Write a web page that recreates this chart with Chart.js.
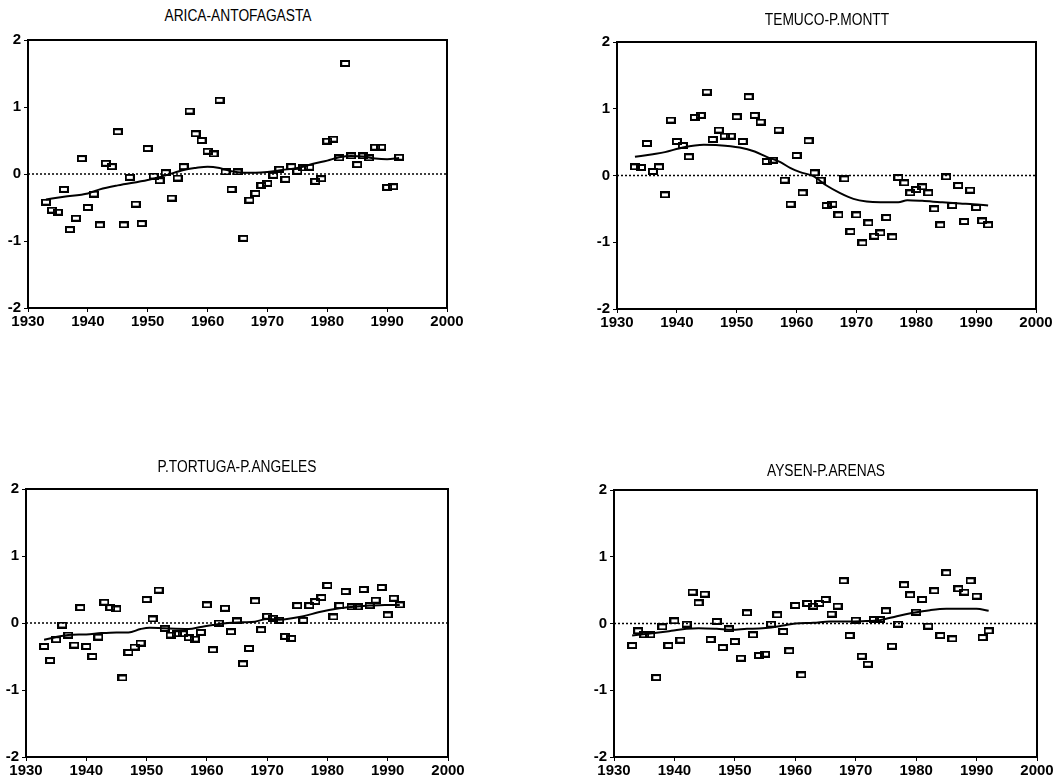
<!DOCTYPE html>
<html>
<head>
<meta charset="utf-8">
<script src="https://cdn.jsdelivr.net/npm/chart.js@4"></script>
<style>
  body { margin: 0; background: #fff; width: 1058px; height: 781px; position: relative; overflow: hidden; font-family: "Liberation Sans", Arial, sans-serif; }
  canvas { position: absolute; }
  .title { position: absolute; font-size: 16px; color: #000; transform: translate(-50%, -50%) scale(0.86, 1); white-space: nowrap; }
</style>
</head>
<body>
<script>
// years of the annual anomalies
const years = [];
for (let y = 1933; y <= 1992; y++) years.push(y);

const titles = ['ARICA-ANTOFAGASTA', 'TEMUCO-P.MONTT', 'P.TORTUGA-P.ANGELES', 'AYSEN-P.ARENAS'];

const xTicks = [1930, 1940, 1950, 1960, 1970, 1980, 1990, 2000];
const yTicks = [-2, -1, 0, 1, 2];

// anomalies, 1933..1992
const aricaValues = [-0.42, -0.54, -0.57, -0.23, -0.83, -0.66, 0.23, -0.50, -0.30, -0.76,
  0.16, 0.11, 0.63, -0.76, -0.05, -0.45, -0.74, 0.38, -0.03, -0.10,
  0.02, -0.36, -0.06, 0.11, 0.94, 0.60, 0.50, 0.34, 0.30, 1.10,
  0.03, -0.23, 0.03, -0.96, -0.39, -0.29, -0.17, -0.14, -0.02, 0.07,
  -0.08, 0.11, 0.04, 0.09, 0.10, -0.11, -0.07, 0.49, 0.52, 0.24,
  1.65, 0.27, 0.14, 0.27, 0.24, 0.40, 0.40, -0.20, -0.19, 0.25];

const temucoValues = [0.13, 0.12, 0.48, 0.06, 0.13, -0.29, 0.83, 0.51, 0.45, 0.28,
  0.87, 0.90, 1.25, 0.54, 0.68, 0.59, 0.59, 0.88, 0.51, 1.18,
  0.90, 0.80, 0.21, 0.23, 0.68, -0.07, -0.43, 0.30, -0.26, 0.52,
  0.04, -0.07, -0.45, -0.43, -0.59, -0.05, -0.84, -0.59, -1.01, -0.71,
  -0.91, -0.86, -0.63, -0.92, -0.03, -0.11, -0.26, -0.21, -0.17, -0.26,
  -0.50, -0.74, -0.02, -0.45, -0.15, -0.69, -0.22, -0.48, -0.68, -0.74];

const tortugaValues = [-0.35, -0.56, -0.25, -0.03, -0.18, -0.33, 0.23, -0.35, -0.50, -0.21,
  0.31, 0.23, 0.21, -0.82, -0.44, -0.36, -0.30, 0.35, 0.06, 0.49,
  -0.08, -0.18, -0.16, -0.16, -0.22, -0.24, -0.14, 0.27, -0.40, 0.00,
  0.22, -0.13, 0.03, -0.61, -0.38, 0.33, -0.10, 0.10, 0.07, 0.04,
  -0.20, -0.23, 0.26, 0.04, 0.26, 0.32, 0.38, 0.56, 0.09, 0.26,
  0.47, 0.24, 0.24, 0.50, 0.26, 0.34, 0.53, 0.12, 0.37, 0.27];

const aysenValues = [-0.33, -0.11, -0.17, -0.17, -0.81, -0.05, -0.33, 0.04, -0.25, -0.01,
  0.47, 0.31, 0.44, -0.24, 0.03, -0.36, -0.08, -0.27, -0.52, 0.16,
  -0.17, -0.48, -0.46, -0.01, 0.13, -0.12, -0.41, 0.27, -0.77, 0.30,
  0.26, 0.30, 0.36, 0.14, 0.26, 0.64, -0.18, 0.05, -0.49, -0.61,
  0.06, 0.06, 0.19, -0.34, -0.01, 0.58, 0.43, 0.17, 0.36, -0.04,
  0.49, -0.18, 0.76, -0.23, 0.52, 0.47, 0.64, 0.41, -0.21, -0.11];

// smoothed curves
const aricaSmoothX = [1933, 1936, 1940, 1942, 1945, 1950, 1953, 1956, 1958, 1960, 1962, 1964, 1966, 1968, 1970, 1972.5, 1975, 1978, 1980, 1982, 1984, 1986, 1988, 1990, 1992];
const aricaSmoothY = [-0.38, -0.34, -0.29, -0.23, -0.17, -0.09, -0.02, 0.06, 0.09, 0.11, 0.09, 0.04, 0.02, 0.02, 0.03, 0.06, 0.09, 0.16, 0.20, 0.25, 0.27, 0.26, 0.23, 0.22, 0.24];

const temucoSmoothX = [1933, 1936, 1938, 1941, 1944.5, 1947, 1950.5, 1953, 1955, 1957.3, 1959, 1960.6, 1962.8, 1965, 1967.2, 1969.5, 1971.7, 1974, 1977, 1978.5, 1981, 1984, 1987.3, 1989.5, 1992];
const temucoSmoothY = [0.28, 0.32, 0.35, 0.42, 0.46, 0.455, 0.42, 0.36, 0.28, 0.20, 0.11, 0.05, -0.01, -0.15, -0.26, -0.35, -0.39, -0.40, -0.40, -0.37, -0.38, -0.40, -0.42, -0.43, -0.45];

const tortugaSmoothX = [1933, 1937, 1940, 1942.5, 1945, 1947, 1949, 1950.5, 1953, 1957, 1959, 1961, 1963.5, 1966, 1968, 1970, 1972, 1976, 1978.5, 1982, 1984, 1987, 1989.5, 1992];
const tortugaSmoothY = [-0.25, -0.18, -0.17, -0.15, -0.14, -0.14, -0.09, -0.07, -0.08, -0.09, -0.06, -0.03, 0.00, 0.01, 0.02, 0.06, 0.05, 0.10, 0.16, 0.22, 0.24, 0.26, 0.27, 0.27];

const aysenSmoothX = [1933, 1936, 1939.5, 1942, 1944, 1947, 1949.5, 1952, 1954, 1956, 1958, 1960, 1963, 1965.7, 1968.4, 1971, 1974, 1976.8, 1979.5, 1982.3, 1985, 1988, 1990, 1992];
const aysenSmoothY = [-0.18, -0.15, -0.11, -0.08, -0.07, -0.08, -0.095, -0.08, -0.075, -0.06, -0.03, 0.00, 0.01, 0.03, 0.03, 0.035, 0.05, 0.11, 0.16, 0.20, 0.22, 0.22, 0.22, 0.19];

// plot-area boxes on the page
const panels = [
  { l: 28, t: 40, r: 447, b: 308, ty: 16 },
  { l: 617, t: 42, r: 1036, b: 309, ty: 20 },
  { l: 26, t: 489, r: 448, b: 757, ty: 467 },
  { l: 614, t: 490, r: 1037, b: 757, ty: 471 }
];

// hollow rectangle marker
const marker = document.createElement('canvas');
marker.width = 10;
marker.height = 7;
const mctx = marker.getContext('2d');
mctx.lineWidth = 2;
mctx.strokeStyle = '#000';
mctx.strokeRect(1, 1, 8, 5);

const tickFont = { size: 15, weight: 'bold', family: '"Liberation Sans", Arial, sans-serif' };

const framePlugin = {
  id: 'frame',
  afterDatasetsDraw(chart) {
    const a = chart.chartArea;
    const ctx = chart.ctx;
    ctx.save();
    ctx.strokeStyle = '#000';
    ctx.lineWidth = 2;
    ctx.strokeRect(a.left, a.top, a.right - a.left, a.bottom - a.top);
    ctx.restore();
  }
};

function makePanel(i, values, smoothX, smoothY) {
  const p = panels[i];
  const padL = 30, padT = 15, padR = 30, padB = 32;

  const canvas = document.createElement('canvas');
  canvas.width = p.r - p.l + padL + padR;
  canvas.height = p.b - p.t + padT + padB;
  canvas.style.left = (p.l - padL) + 'px';
  canvas.style.top = (p.t - padT) + 'px';
  document.body.appendChild(canvas);

  const title = document.createElement('div');
  title.className = 'title';
  title.textContent = titles[i];
  title.style.left = ((p.l + p.r) / 2) + 'px';
  title.style.top = p.ty + 'px';
  document.body.appendChild(title);

  const xMin = xTicks[0], xMax = xTicks[xTicks.length - 1];

  new Chart(canvas.getContext('2d'), {
    type: 'scatter',
    data: {
      datasets: [
        {
          data: years.map((y, k) => ({ x: y, y: values[k] })),
          pointStyle: marker,
          pointRadius: 4,
          showLine: false
        },
        {
          data: smoothX.map((x, k) => ({ x: x, y: smoothY[k] })),
          showLine: true,
          borderColor: '#000',
          borderWidth: 2,
          pointRadius: 0,
          cubicInterpolationMode: 'monotone'
        },
        {
          data: [{ x: xMin, y: 0 }, { x: xMax, y: 0 }],
          showLine: true,
          borderColor: '#000',
          borderWidth: 1.5,
          borderDash: [2, 2],
          pointRadius: 0
        }
      ]
    },
    options: {
      responsive: false,
      animation: false,
      devicePixelRatio: 1,
      layout: { padding: { left: 0, top: padT, right: padR, bottom: padB - 24 } },
      plugins: { legend: { display: false }, tooltip: { enabled: false } },
      scales: {
        x: {
          type: 'linear',
          min: xMin,
          max: xMax,
          afterBuildTicks(scale) { scale.ticks = xTicks.map(v => ({ value: v })); },
          afterFit(scale) { scale.height = 24; },
          grid: { display: true, drawOnChartArea: false, drawTicks: true, tickLength: 4, color: '#000' },
          border: { display: true, color: '#000', width: 2 },
          ticks: { color: '#000', padding: 1, maxRotation: 0, font: tickFont, callback: v => String(v) }
        },
        y: {
          min: yTicks[0],
          max: yTicks[yTicks.length - 1],
          afterBuildTicks(scale) { scale.ticks = yTicks.map(v => ({ value: v })); },
          afterFit(scale) { scale.width = padL; },
          grid: { display: true, drawOnChartArea: false, drawTicks: true, tickLength: 4, color: '#000' },
          border: { display: true, color: '#000', width: 2 },
          ticks: { color: '#000', padding: 3, font: tickFont, callback: v => String(v) }
        }
      }
    },
    plugins: [framePlugin]
  });
}

makePanel(0, aricaValues, aricaSmoothX, aricaSmoothY);
makePanel(1, temucoValues, temucoSmoothX, temucoSmoothY);
makePanel(2, tortugaValues, tortugaSmoothX, tortugaSmoothY);
makePanel(3, aysenValues, aysenSmoothX, aysenSmoothY);
</script>
</body>
</html>
